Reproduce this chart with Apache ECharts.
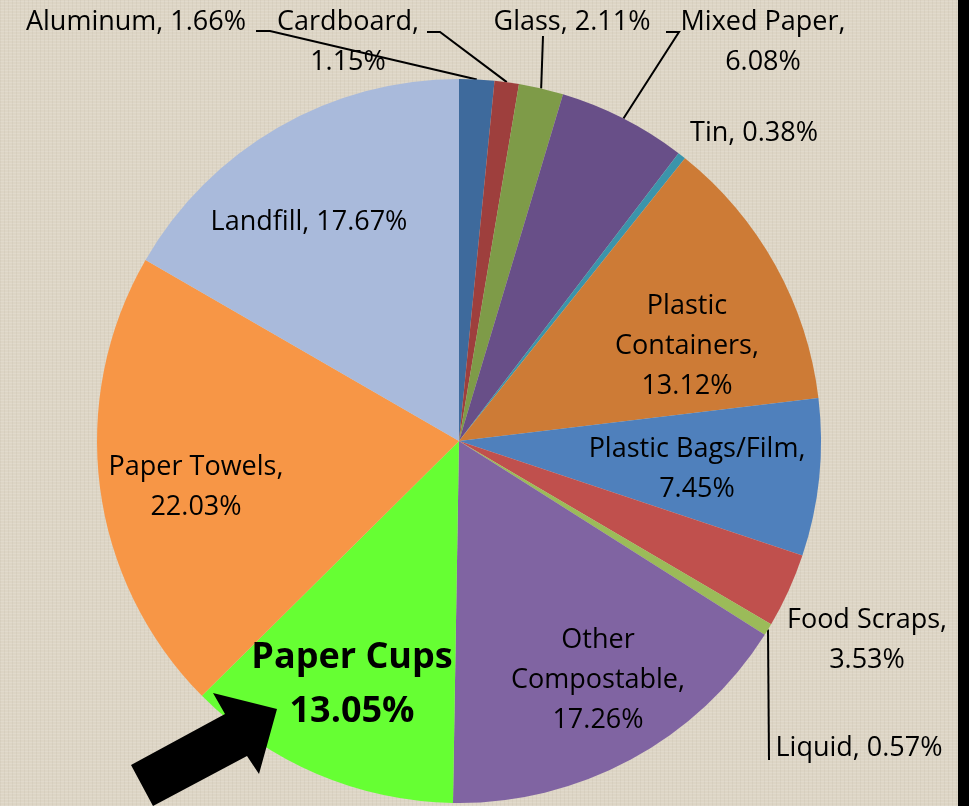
<!DOCTYPE html>
<html><head><meta charset="utf-8">
<script src="https://cdn.jsdelivr.net/npm/echarts@6/dist/echarts.min.js"></script>
<style>
html,body{margin:0;padding:0;}
body{width:969px;height:806px;overflow:hidden;background-color:#ddd5c5;
background-image:
repeating-linear-gradient(90deg, rgba(160,150,130,0.10) 0px, rgba(160,150,130,0.10) 1px, transparent 1px, transparent 4px),
repeating-linear-gradient(0deg, rgba(255,255,255,0.12) 0px, rgba(255,255,255,0.12) 1px, transparent 1px, transparent 3px);}
#chart{position:absolute;left:0;top:0;width:969px;height:806px;}
#strip{position:absolute;left:958px;top:0;width:11px;height:806px;background:#000;}
</style></head>
<body>
<div id="chart"></div><div id="strip"></div>
<script>
const categories = ['Aluminum','Cardboard','Glass','Mixed Paper','Tin','Plastic Containers','Plastic Bags/Film','Food Scraps','Liquid','Other Compostable','Paper Cups','Paper Towels','Landfill'];
const values = [1.66,1.15,2.11,6.08,0.38,13.12,7.45,3.53,0.57,17.26,13.05,22.03,17.67];
const labelTexts = ['Aluminum, 1.66%','Cardboard,\n1.15%','Glass, 2.11%','Mixed Paper,\n6.08%','Tin, 0.38%','Plastic\nContainers,\n13.12%','Plastic Bags/Film,\n7.45%','Food Scraps,\n3.53%','Liquid, 0.57%','Other\nCompostable,\n17.26%','Paper Cups\n13.05%','Paper Towels,\n22.03%','Landfill, 17.67%'];
const colors = ['#3e6a9c','#9e3f3d','#7e9b48','#684f88','#3b94ab','#cd7b36','#4f80bc','#c0504d','#9bbb59','#8064a2','#66ff33','#f79646','#a9badb'];

const CX = 459, CY = 441, R = 362;
const labelPos = [[136,22],[348,42],[572,22],[763,42],[754,133],[687,346],[697,469],[867,640],[859,748],[598,680],[352,685],[196,487],[309,222]];
const linePts = {0:[[270,31],[256,31]],1:[[440,32],[427,32]],2:[[543,36],[543,36]],3:[[679,32],[666,32]],8:[[769,760],[769,760]]};

const total = values.reduce((a,b)=>a+b,0);
function edgePoint(i){
  let cum = 0; for(let k=0;k<i;k++) cum += values[k];
  const a = (cum + values[i]/2)/total*2*Math.PI;
  return [CX + R*Math.sin(a), CY - R*Math.cos(a)];
}

const FONT = "'Open Sans', sans-serif";
const data = categories.map((c,i)=>({
  name:c, value:values[i],
  itemStyle:{color:colors[i]},
  label: i===10 ? {fontSize:36, fontWeight:'bold', lineHeight:54} : {},
  labelLine:{show: linePts[i]!==undefined}
}));

const chart = echarts.init(document.getElementById('chart'),null,{renderer:'canvas'});
chart.setOption({
  backgroundColor:'transparent',
  animation:false,
  series:[{
    type:'pie', center:[CX,CY], radius:R, startAngle:90, clockwise:true,
    avoidLabelOverlap:false,
    data:data,
    itemStyle:{borderWidth:0},
    label:{show:true, position:'outside', color:'#000', fontFamily:FONT, fontSize:27, lineHeight:40,
      formatter:(p)=>labelTexts[p.dataIndex]},
    labelLine:{lineStyle:{color:'#000',width:2}, length:10, length2:10},
    labelLayout:(p)=>{
      const i = p.dataIndex;
      const o = {x:labelPos[i][0], y:labelPos[i][1], align:'center', verticalAlign:'middle'};
      if(linePts[i]){ o.labelLinePoints = [edgePoint(i), linePts[i][0], linePts[i][1]]; }
      return o;
    }
  }],
  graphic:[{type:'polygon', z:100, shape:{points:[[277,709],[213,693],[225,714],[131,765],[153,806],[247,756],[259,774]]}, style:{fill:'#000'}}]
});
</script>
</body></html>
